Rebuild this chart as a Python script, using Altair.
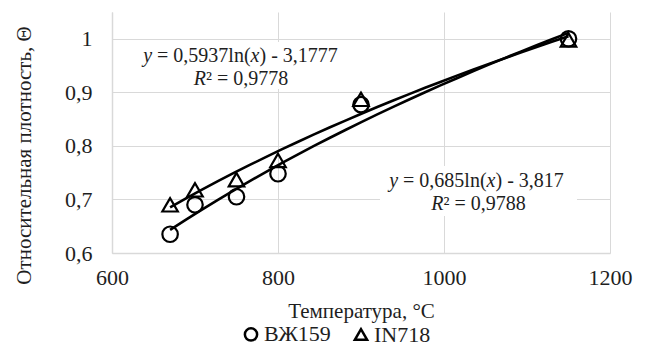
import altair as alt
import pandas as pd

# ---- data ----
temps = [670, 700, 750, 800, 900, 1150]
vzh159 = [0.635, 0.690, 0.705, 0.748, 0.877, 1.000]
in718 = [0.690, 0.718, 0.737, 0.773, 0.887, 0.998]
series_names = ["ВЖ159", "IN718"]
x_ticks = [600, 800, 1000, 1200]
y_ticks = [0.6, 0.7, 0.8, 0.9, 1.0]

FONT = "Liberation Serif"
TXT = "#1e1e1e"

rows = []
for t, v in zip(temps, vzh159):
    rows.append({"temp": t, "dens": v, "series": series_names[0]})
for t, v in zip(temps, in718):
    rows.append({"temp": t, "dens": v, "series": series_names[1]})
df = pd.DataFrame(rows)

# ---- annotation text (trend-line equations) ----
W = {' ': 250, '=': 564, ',': 250, 'l': 278, 'n': 500, '(': 333, ')': 333,
     '-': 333, 'y': 444, 'x': 444, 'R': 611, '²': 300}
for d in "0123456789":
    W[d] = 500

ANN_SIZE = 20


def wid(s):
    return sum(W.get(c, 500) for c in s) * ANN_SIZE / 1000


def seg_rows(parts, cx, base):
    total = sum(wid(p) for p, _ in parts)
    x = cx - total / 2
    out = []
    for p, it in parts:
        stripped = p.lstrip(" ")
        lead = wid(p[: len(p) - len(stripped)])
        out.append({"px": x + lead, "py": base, "text": stripped, "italic": it})
        x += wid(p)
    return out


ann = []
ann += seg_rows([("y", True), (" = 0,5937ln(", False), ("x", True),
                 (") - 3,1777", False)], 240.5 - 112, 62 - 12)
ann += seg_rows([("R", True), ("² = 0,9778", False)], 241 - 112, 85 - 12)
ann += seg_rows([("y", True), (" = 0,685ln(", False), ("x", True),
                 (") - 3,817", False)], 476.5 - 112, 187 - 12)
ann += seg_rows([("R", True), ("² = 0,9788", False)], 478.5 - 112, 210 - 12)
ann_df = pd.DataFrame(ann)

boxes = pd.DataFrame([
    {"x1": 135 - 112, "x2": 352 - 112, "y1": 42 - 12, "y2": 89 - 12},
    {"x1": 380 - 112, "x2": 577 - 112, "y1": 166 - 12, "y2": 216 - 12},
])

xscale = alt.Scale(domain=[600, 1200], nice=False, zero=False)
yscale = alt.Scale(domain=[0.6, 1.05], nice=False, zero=False)

x_enc = alt.X("temp:Q", scale=xscale, axis=alt.Axis(
    values=x_ticks, format="d", title="Температура, °C", labelFlush=False,
    titleY=58, titleBaseline="middle", labelPadding=14))
y_enc = alt.Y("dens:Q", scale=yscale, axis=alt.Axis(
    values=y_ticks, labelExpr="replace(format(datum.value, '.1~f'), '.', ',')",
    title="Относительная плотность, Θ", titleX=-88, titleY=143, labelFlush=False,
    titleAngle=270, titleAlign="center", titleBaseline="middle",
    labelPadding=20))

base = alt.Chart(df)

points = base.mark_point(filled=False, color="black", strokeWidth=2.2,
                         size=240, opacity=1).encode(
    x=x_enc, y=y_enc,
    shape=alt.Shape("series:N",
                    scale=alt.Scale(domain=series_names, range=["circle", "triangle-up"]),
                    sort=series_names,
                    legend=alt.Legend(orient="none", legendX=128, legendY=311,
                                      direction="horizontal", title=None,
                                      labelFont=FONT, labelFontSize=22, labelColor=TXT,
                                      symbolSize=150, symbolStrokeWidth=2.5,
                                      symbolStrokeColor="black", symbolFillColor="white",
                                      labelOffset=2, columnPadding=18, padding=0)),
)

trend = base.transform_regression("temp", "dens", groupby=["series"], method="log",
                                  extent=[670, 1150]).mark_line(
    color="black", strokeWidth=2.6).encode(
    x=alt.X("temp:Q", scale=xscale), y=alt.Y("dens:Q", scale=yscale),
    detail="series:N")

rects = alt.Chart(boxes).mark_rect(color="white", opacity=1).encode(
    x=alt.X("x1:Q", scale=None), x2="x2:Q",
    y=alt.Y("y1:Q", scale=None), y2="y2:Q")

txt_it = alt.Chart(ann_df).transform_filter("datum.italic").mark_text(
    align="left", baseline="alphabetic", font=FONT, fontSize=ANN_SIZE,
    fontStyle="italic", color=TXT).encode(
    x=alt.X("px:Q", scale=None), y=alt.Y("py:Q", scale=None), text="text:N")
txt_rm = alt.Chart(ann_df).transform_filter("!datum.italic").mark_text(
    align="left", baseline="alphabetic", font=FONT, fontSize=ANN_SIZE,
    color=TXT).encode(
    x=alt.X("px:Q", scale=None), y=alt.Y("py:Q", scale=None), text="text:N")

chart = alt.layer(rects, trend, points, txt_it, txt_rm).resolve_scale(
    x="shared", y="shared").properties(
    width=498, height=241, autosize="none",
    padding={"left": 104, "top": 4, "right": 31, "bottom": 92},
).configure_view(stroke=None).configure_axis(
    labelFont=FONT, labelFontSize=22, labelColor=TXT,
    titleFont=FONT, titleFontSize=21, titleColor=TXT, titleFontWeight="normal",
    gridColor="#d9d9d9", gridWidth=1, domainColor="#d9d9d9", domainWidth=1.5,
    ticks=False, tickSize=0,
)

chart.save("out.html", embed_options={"renderer": "svg", "actions": False})
